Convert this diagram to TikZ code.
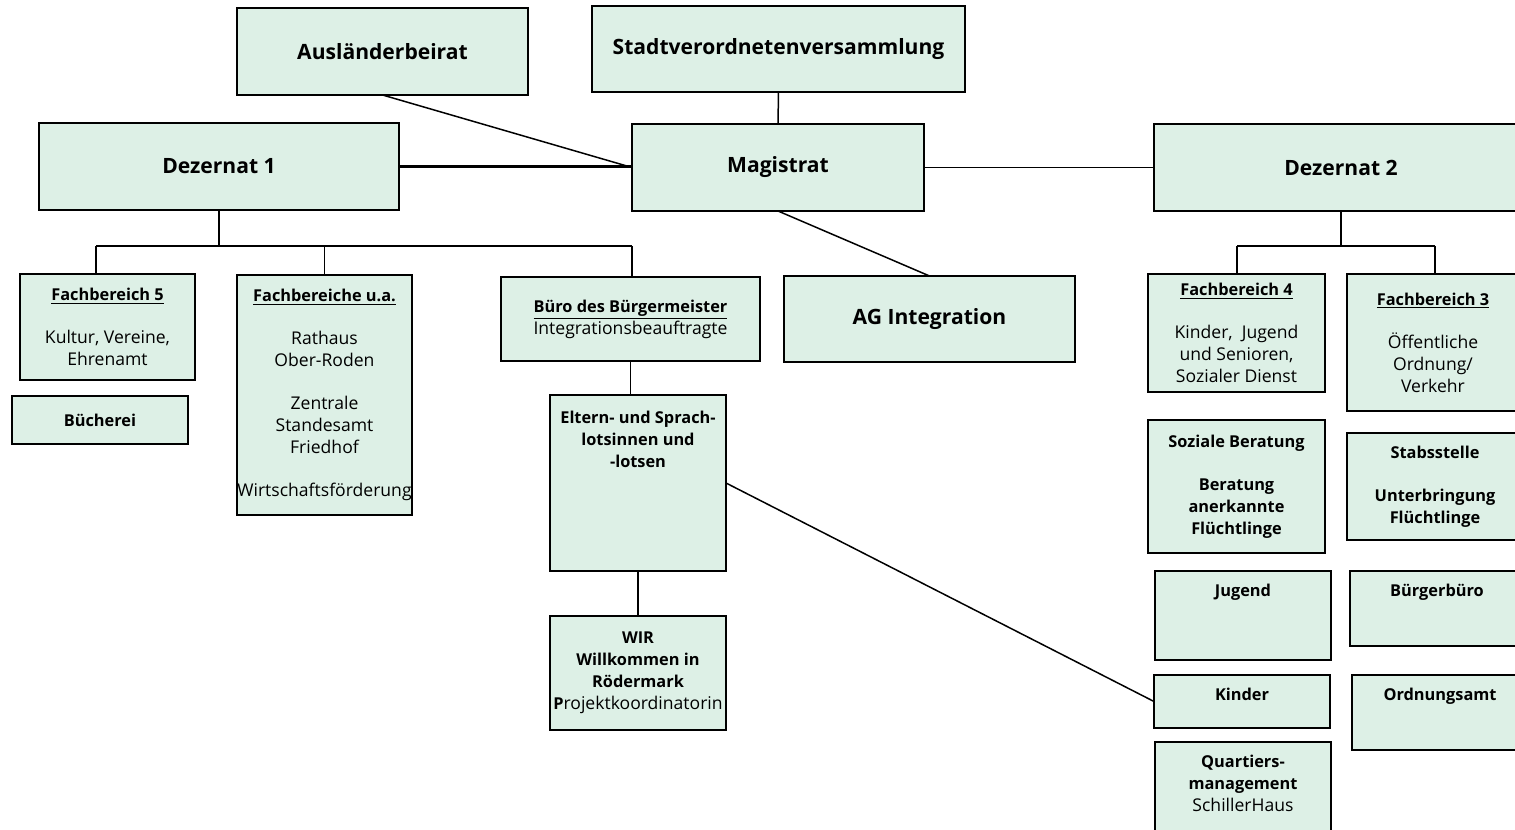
\documentclass[tikz,border=0pt]{standalone}
\usepackage{fontspec}
\setmainfont{Open Sans}
\usetikzlibrary{positioning}
\definecolor{orggreen}{HTML}{DDF0E6}
\newlength{\pxu}
\setlength{\pxu}{0.02cm}
\newcommand{\hb}[1]{{\fontsize{9.3}{12.5}\selectfont\bfseries #1}}
\newcommand{\head}[1]{\underline{\hb{#1}}}
\newcommand{\rg}[1]{{\fontsize{10}{12.5}\selectfont\mdseries #1}}
\tikzset{
  orgbox/.style={draw=black, fill=orggreen, line width=1.1pt, anchor=north west,
    inner sep=0pt, outer sep=0pt, align=center, font=\fontsize{10}{12.5}\selectfont},
  bigbox/.style={orgbox, font=\fontsize{12}{14}\selectfont\bfseries},
  boxtext/.style={inner sep=0pt, align=center, font=\fontsize{9.3}{12.5}\selectfont\bfseries},
  link/.style={line width=0.85pt},
  thicklink/.style={line width=1.7pt},
}
\begin{document}
\begin{tikzpicture}[x=0.02cm,y=-0.02cm]
  \useasboundingbox (0,0) rectangle (1515,830);
  \clip (0,0) rectangle (1515,830);
  % obere Ebene
  \node[bigbox, minimum width=291\pxu, minimum height=87\pxu] (auslb) at (237,8) {Ausländerbeirat};
  \node[bigbox, minimum width=373\pxu, minimum height=86\pxu] (stvv) at (592,6) {Stadtverordnetenversammlung};
  \node[bigbox, minimum width=360\pxu, minimum height=87\pxu] (dez1) at (39,123) {Dezernat 1};
  \node[bigbox, minimum width=292\pxu, minimum height=87\pxu] (mag) at (632,124) {Magistrat};
  \node[bigbox, minimum width=374\pxu, minimum height=87\pxu] (dez2) at (1154,124) {Dezernat 2};
  \node[bigbox, minimum width=291\pxu, minimum height=86\pxu] (ag) at (784,276) {AG Integration};
  % Dezernat 1
  \node[orgbox, minimum width=175\pxu, minimum height=106\pxu] (fb5) at (20,274)
    {\head{Fachbereich 5}\\[12pt]Kultur, Vereine,\\Ehrenamt};
  \node[orgbox, minimum width=176\pxu, minimum height=48\pxu] (buech) at (12,396) {\hb{Bücherei}};
  \node[orgbox, minimum width=175\pxu, minimum height=240\pxu] (fbua) at (237,275)
    {\head{Fachbereiche u.a.}\\[12pt]Rathaus\\Ober-Roden\\[12pt]Zentrale\\Standesamt\\Friedhof\\[12pt]Wirtschaftsförderung};
  \node[orgbox, minimum width=259\pxu, minimum height=84\pxu] (buero) at (501,277)
    {\head{Büro des Bürgermeister}\\Integrationsbeauftragte};
  \node[orgbox, minimum width=176\pxu, minimum height=176\pxu] (eltern) at (550,395) {};
  \node[boxtext, below=9pt of eltern.north] (elterntxt) {Eltern- und Sprach-\\lotsinnen und\\-lotsen};
  \node[orgbox, minimum width=176\pxu, minimum height=114\pxu] (wir) at (550,616)
    {\hb{WIR}\\\hb{Willkommen in}\\\hb{Rödermark}\\\hb{P}rojektkoordinatorin};
  % Dezernat 2
  \node[orgbox, minimum width=177\pxu, minimum height=118\pxu] (fb4) at (1148,274)
    {\head{Fachbereich 4}\\[12pt]Kinder,~ Jugend\\und Senioren,\\Sozialer Dienst};
  \node[orgbox, minimum width=172\pxu, minimum height=137\pxu] (fb3) at (1347,274)
    {\head{Fachbereich 3}\\[12pt]Öffentliche\\Ordnung/\\Verkehr};
  \node[orgbox, minimum width=177\pxu, minimum height=133\pxu] (sozb) at (1148,420)
    {\hb{Soziale Beratung}\\[12pt]\hb{Beratung}\\\hb{anerkannte}\\\hb{Flüchtlinge}};
  \node[orgbox, minimum width=176\pxu, minimum height=107\pxu] (stab) at (1347,433)
    {\hb{Stabsstelle}\\[12pt]\hb{Unterbringung}\\\hb{Flüchtlinge}};
  \node[orgbox, minimum width=176\pxu, minimum height=89\pxu] (jugend) at (1155,571) {};
  \node[boxtext, below=7.5pt of jugend.north] (jugendtxt) {Jugend};
  \node[orgbox, minimum width=174\pxu, minimum height=75\pxu] (buergb) at (1350,571) {};
  \node[boxtext, below=7.5pt of buergb.north] (buergbtxt) {Bürgerbüro};
  \node[orgbox, minimum width=176\pxu, minimum height=53\pxu] (kinder) at (1154,675) {};
  \node[boxtext, below=7.5pt of kinder.north] (kindertxt) {Kinder};
  \node[orgbox, minimum width=176\pxu, minimum height=75\pxu] (ordn) at (1352,675) {};
  \node[boxtext, below=7.5pt of ordn.north] (ordntxt) {Ordnungsamt};
  \node[orgbox, minimum width=176\pxu, minimum height=100\pxu] (quart) at (1155,742) {};
  \node[boxtext, below=7.5pt of quart.north] (quarttxt) {Quartiers-\\management\\\rg{SchillerHaus}};
  % Verbindungen
  \coordinate (d1l) at (96,246);
  \coordinate (d1r) at (632,246);
  \coordinate (d2l) at (1237,246);
  \coordinate (d2r) at (1435,246);
  \draw[link] (auslb.south) -- (mag.west);
  \draw[thicklink] (dez1.east) -- (dez1.east -| mag.west);
  \draw[link] (stvv.south) -- (mag.north);
  \draw[link] (mag.east) -- (dez2.west);
  \draw[link] (mag.south) -- (ag.north);
  \draw[link] (dez1.south) -- (dez1.south |- d1l);
  \draw[link] (d1l) -- (d1r);
  \draw[link] (d1l) -- (d1l |- fb5.north);
  \draw[link] (fbua.north |- d1l) -- (fbua.north);
  \draw[link] (d1r) -- (d1r |- buero.north);
  \draw[link] (buero.south) -- (buero.south |- eltern.north);
  \draw[link] (eltern.south) -- (eltern.south |- wir.north);
  \draw[link] (eltern.east) -- (kinder.west);
  \draw[link] (dez2.south) -- (dez2.south |- d2l);
  \draw[link] (d2l) -- (d2r);
  \draw[link] (d2l) -- (d2l |- fb4.north);
  \draw[link] (d2r) -- (d2r |- fb3.north);
\end{tikzpicture}
\end{document}
